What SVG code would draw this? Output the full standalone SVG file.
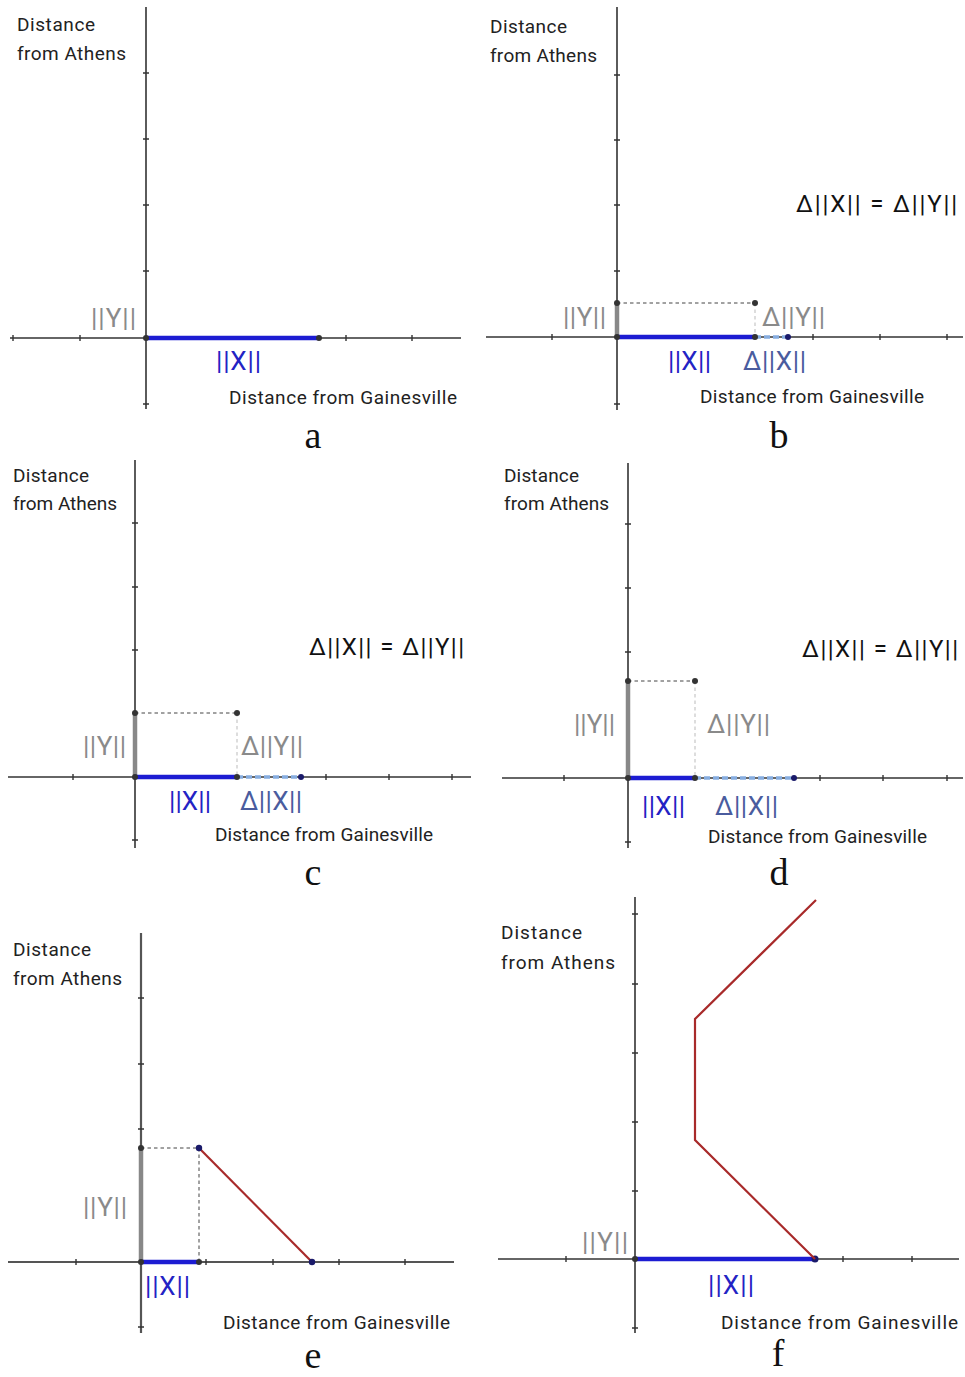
<svg xmlns="http://www.w3.org/2000/svg" width="965" height="1377" viewBox="0 0 965 1377">
<style>
.ax{stroke:#333;stroke-width:1.6;fill:none}
.axe{stroke:#555;stroke-width:2.2;fill:none}
.tk{stroke:#333;stroke-width:1.4}
.bl{stroke:#1c1cd2;stroke-width:4.5;fill:none}
.lb{stroke:#86ade0;stroke-width:3.5;fill:none;stroke-dasharray:6 3}
.gy{stroke:#888;stroke-width:4.5;fill:none}
.dh{stroke:#444;stroke-width:1;stroke-dasharray:3.5 3;fill:none}
.dv{stroke:#bbb;stroke-width:1;stroke-dasharray:3.5 3;fill:none}
.rd{stroke:#a82a2a;stroke-width:2.2;fill:none;stroke-linejoin:miter}
.dot{fill:#333}
.dotb{fill:#1a1a6a}
.t{font-family:Roboto,"Liberation Sans",sans-serif;font-size:19px;fill:#222}
.lab{font-family:Roboto,"Liberation Sans",sans-serif;font-size:26px}
.eq{font-family:Roboto,"Liberation Sans",sans-serif;font-size:24px;fill:#111}
.cx{fill:#2323c4}
.cy{fill:#8a8a8a}
.cd{fill:#4a5c9e}
.let{font-family:"Liberation Serif","Times New Roman",serif;font-size:38px;fill:#111;text-anchor:middle}
</style>

<g id="panel-a">
  <line class="ax" x1="146" y1="7" x2="146" y2="409"/>
  <line class="ax" x1="10" y1="338" x2="461" y2="338"/>
  <path class="tk" d="M143 73h6M143 139h6M143 205h6M143 271h6M143 404h6M13 335v6M80 335v6M346 335v6M412 335v6"/>
  <line class="bl" x1="146" y1="338" x2="319" y2="338"/>
  <circle class="dot" cx="146" cy="338" r="3"/>
  <circle class="dot" cx="319" cy="338" r="3"/>
  <text class="t" x="17" y="31" textLength="78">Distance</text>
  <text class="t" x="17" y="60" textLength="109">from Athens</text>
  <text class="lab cy" x="91" y="327" textLength="45">||Y||</text>
  <text class="lab cx" x="216" y="370" textLength="45">||X||</text>
  <text class="t" x="229" y="404" textLength="228">Distance from Gainesville</text>
  <text class="let" x="313" y="448">a</text>
</g>

<g id="panel-b">
  <line class="ax" x1="617" y1="7" x2="617" y2="410"/>
  <line class="ax" x1="486" y1="337" x2="963" y2="337"/>
  <path class="tk" d="M614 75h6M614 140h6M614 205h6M614 271h6M614 404h6M552 334v6M813 334v6M880 334v6M947 334v6"/>
  <line class="gy" x1="617" y1="337" x2="617" y2="303"/>
  <line class="dh" x1="617" y1="303" x2="755" y2="303"/>
  <line class="dv" x1="755" y1="303" x2="755" y2="337"/>
  <line class="bl" x1="617" y1="337" x2="755" y2="337"/>
  <line class="lb" x1="755" y1="337" x2="788" y2="337"/>
  <circle class="dot" cx="617" cy="337" r="3"/>
  <circle class="dot" cx="617" cy="303" r="3"/>
  <circle class="dot" cx="755" cy="303" r="3"/>
  <circle class="dot" cx="755" cy="337" r="3"/>
  <circle class="dotb" cx="788" cy="337" r="3"/>
  <text class="t" x="490" y="33" textLength="77">Distance</text>
  <text class="t" x="490" y="62" textLength="107">from Athens</text>
  <text class="eq" x="796" y="212" textLength="161">Δ||X|| = Δ||Y||</text>
  <text class="lab cy" x="563" y="326" textLength="43">||Y||</text>
  <text class="lab cy" x="762" y="326" textLength="63">Δ||Y||</text>
  <text class="lab cx" x="668" y="370" textLength="43">||X||</text>
  <text class="lab cd" x="743" y="370" textLength="63">Δ||X||</text>
  <text class="t" x="700" y="403" textLength="224">Distance from Gainesville</text>
  <text class="let" x="779" y="448">b</text>
</g>

<g id="panel-c">
  <line class="ax" x1="135" y1="460" x2="135" y2="848"/>
  <line class="ax" x1="8" y1="777" x2="471" y2="777"/>
  <path class="tk" d="M132 523h6M132 587h6M132 650h6M132 840h6M73 774v6M326 774v6M389 774v6M452 774v6"/>
  <line class="gy" x1="135" y1="777" x2="135" y2="713"/>
  <line class="dh" x1="135" y1="713" x2="237" y2="713"/>
  <line class="dv" x1="237" y1="713" x2="237" y2="777"/>
  <line class="bl" x1="135" y1="777" x2="237" y2="777"/>
  <line class="lb" x1="237" y1="777" x2="301" y2="777"/>
  <circle class="dot" cx="135" cy="777" r="3"/>
  <circle class="dot" cx="135" cy="713" r="3"/>
  <circle class="dot" cx="237" cy="713" r="3"/>
  <circle class="dot" cx="237" cy="777" r="3"/>
  <circle class="dotb" cx="301" cy="777" r="3"/>
  <text class="t" x="13" y="482" textLength="76">Distance</text>
  <text class="t" x="13" y="510" textLength="104">from Athens</text>
  <text class="eq" x="309" y="655" textLength="155">Δ||X|| = Δ||Y||</text>
  <text class="lab cy" x="83" y="755" textLength="43">||Y||</text>
  <text class="lab cy" x="241" y="755" textLength="62">Δ||Y||</text>
  <text class="lab cx" x="169" y="810" textLength="42">||X||</text>
  <text class="lab cd" x="240" y="810" textLength="62">Δ||X||</text>
  <text class="t" x="215" y="841" textLength="218">Distance from Gainesville</text>
  <text class="let" x="313" y="885">c</text>
</g>

<g id="panel-d">
  <line class="ax" x1="628" y1="463" x2="628" y2="848"/>
  <line class="ax" x1="502" y1="778" x2="963" y2="778"/>
  <path class="tk" d="M625 524h6M625 588h6M625 652h6M625 842h6M564 775v6M820 775v6M883 775v6M947 775v6"/>
  <line class="gy" x1="628" y1="778" x2="628" y2="681"/>
  <line class="dh" x1="628" y1="681" x2="695" y2="681"/>
  <line class="dv" x1="695" y1="681" x2="695" y2="778"/>
  <line class="bl" x1="628" y1="778" x2="695" y2="778"/>
  <line class="lb" x1="695" y1="778" x2="794" y2="778"/>
  <circle class="dot" cx="628" cy="778" r="3"/>
  <circle class="dot" cx="628" cy="681" r="3"/>
  <circle class="dot" cx="695" cy="681" r="3"/>
  <circle class="dot" cx="695" cy="778" r="3"/>
  <circle class="dotb" cx="794" cy="778" r="3"/>
  <text class="t" x="504" y="482" textLength="75">Distance</text>
  <text class="t" x="504" y="510" textLength="105">from Athens</text>
  <text class="eq" x="802" y="657" textLength="156">Δ||X|| = Δ||Y||</text>
  <text class="lab cy" x="574" y="733" textLength="41">||Y||</text>
  <text class="lab cy" x="707" y="733" textLength="63">Δ||Y||</text>
  <text class="lab cx" x="642" y="815" textLength="43">||X||</text>
  <text class="lab cd" x="715" y="815" textLength="63">Δ||X||</text>
  <text class="t" x="708" y="843" textLength="219">Distance from Gainesville</text>
  <text class="let" x="779" y="885">d</text>
</g>

<g id="panel-e">
  <line class="axe" x1="141" y1="933" x2="141" y2="1333"/>
  <line class="axe" x1="8" y1="1262" x2="454" y2="1262"/>
  <path class="tk" d="M138 998h6M138 1064h6M138 1129h6M138 1327h6M76 1259v6M206 1259v6M273 1259v6M339 1259v6M405 1259v6"/>
  <line class="gy" x1="141" y1="1262" x2="141" y2="1148"/>
  <line class="dh" x1="141" y1="1148" x2="199" y2="1148"/>
  <line class="dh" x1="199" y1="1148" x2="199" y2="1262"/>
  <line class="bl" x1="141" y1="1262" x2="199" y2="1262"/>
  <line class="rd" x1="199" y1="1148" x2="312" y2="1262"/>
  <circle class="dot" cx="141" cy="1262" r="3"/>
  <circle class="dot" cx="141" cy="1148" r="3"/>
  <circle class="dotb" cx="199" cy="1148" r="3.2"/>
  <circle class="dot" cx="199" cy="1262" r="3"/>
  <circle class="dotb" cx="312" cy="1262" r="3.2"/>
  <text class="t" x="13" y="956" textLength="78">Distance</text>
  <text class="t" x="13" y="985" textLength="109">from Athens</text>
  <text class="lab cy" x="83" y="1216" textLength="44">||Y||</text>
  <text class="lab cx" x="145" y="1295" textLength="45">||X||</text>
  <text class="t" x="223" y="1329" textLength="227">Distance from Gainesville</text>
  <text class="let" x="313" y="1368">e</text>
</g>

<g id="panel-f">
  <line class="ax" x1="635" y1="897" x2="635" y2="1333"/>
  <line class="ax" x1="498" y1="1259" x2="959" y2="1259"/>
  <path class="tk" d="M632 914h6M632 984h6M632 1053h6M632 1122h6M632 1191h6M632 1328h6M566 1256v6M843 1256v6M912 1256v6"/>
  <line class="bl" x1="635" y1="1259" x2="815" y2="1259"/>
  <circle class="dot" cx="635" cy="1259" r="3"/>
  <circle class="dotb" cx="815" cy="1259" r="3.5"/>
  <text class="t" x="501" y="939" textLength="81">Distance</text>
  <text class="t" x="501" y="969" textLength="114">from Athens</text>
  <text class="lab cy" x="582" y="1251" textLength="46">||Y||</text>
  <text class="lab cx" x="708" y="1294" textLength="46">||X||</text>
  <text class="t" x="721" y="1329" textLength="237">Distance from Gainesville</text>
  <text class="let" x="778" y="1366">f</text>
</g>

<g id="connectors">
  <polyline class="rd" points="815,1259 695,1140 695,1019 816,900"/>
</g>
</svg>
